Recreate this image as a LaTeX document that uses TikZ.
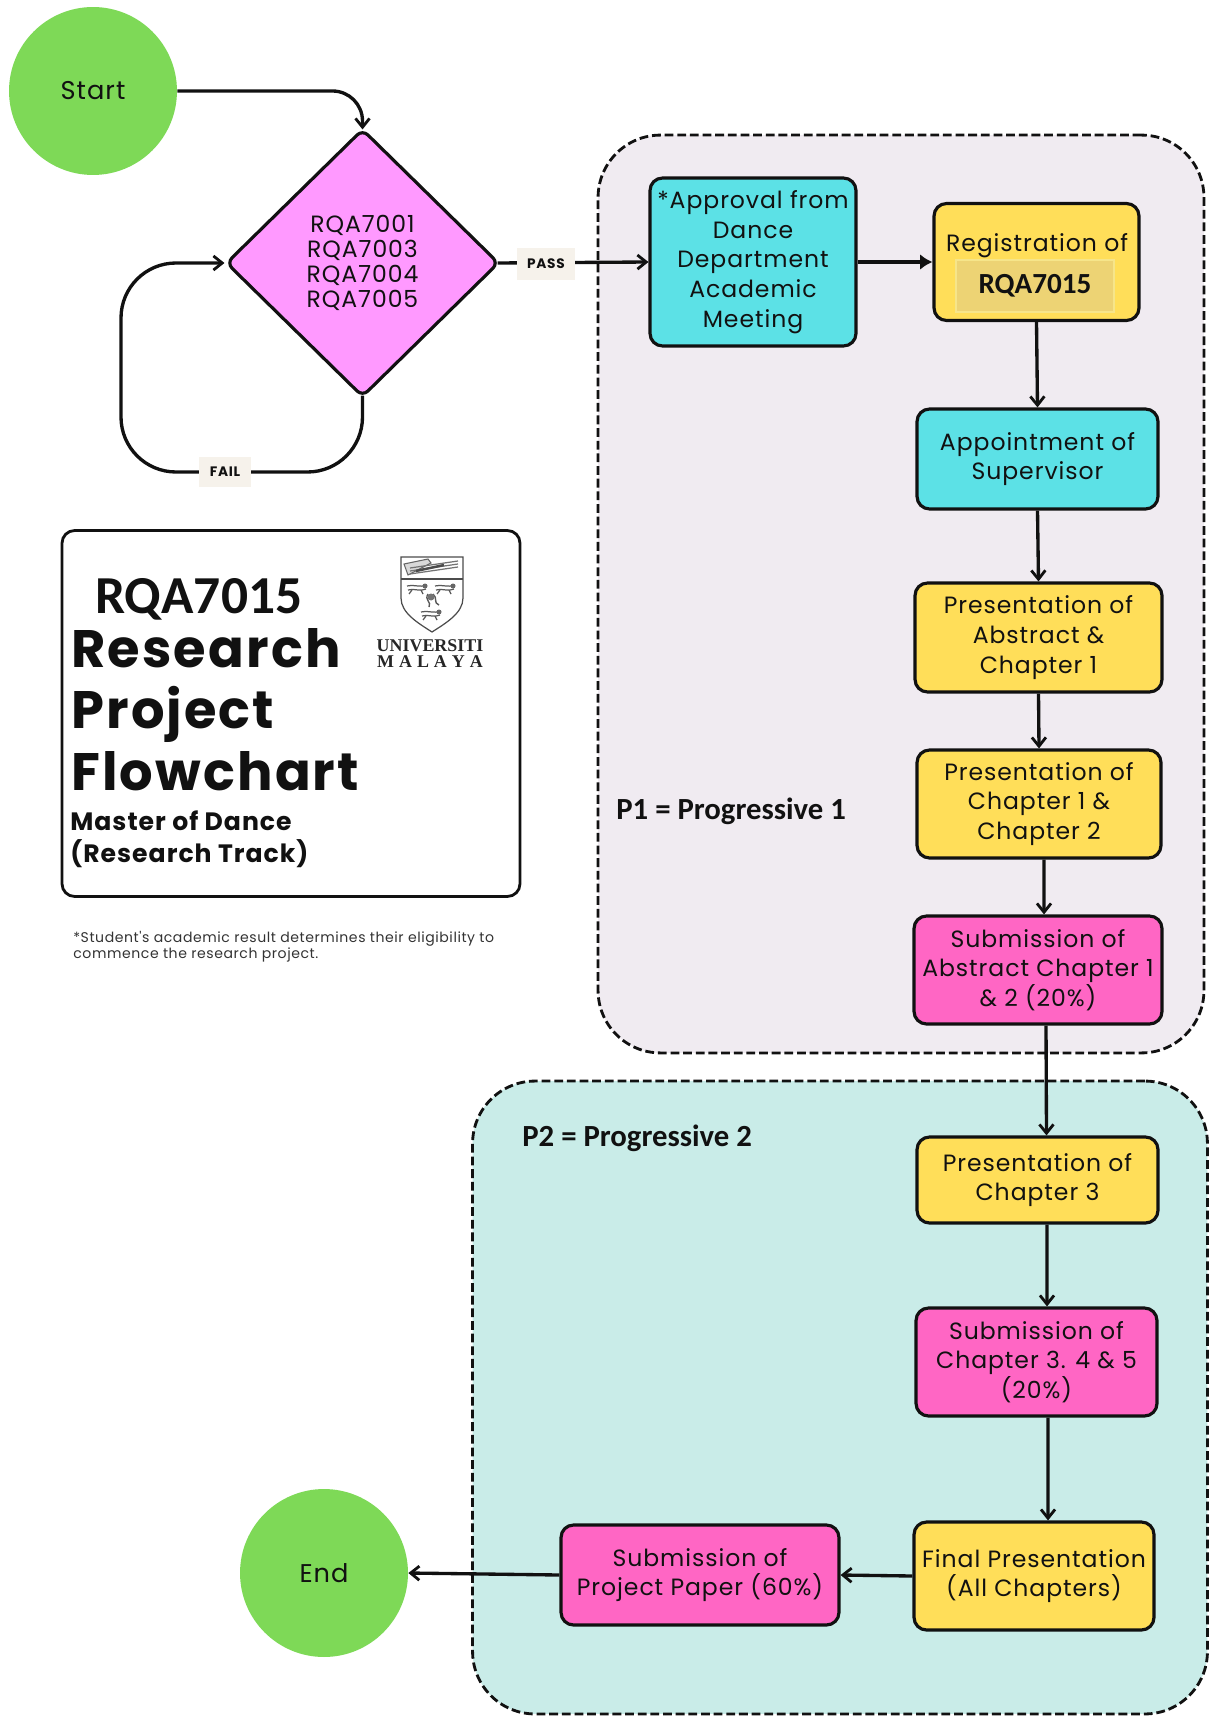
\documentclass[tikz,border=0pt]{standalone}
\usepackage{fontspec}
\usepackage{amsmath}
\usetikzlibrary{arrows.meta}
\usetikzlibrary{shapes.geometric}
\usetikzlibrary{calc}
\setmainfont{Poppins}
\newfontfamily\boxfont[LetterSpace=4]{Poppins}
\newfontfamily\headfont[LetterSpace=4]{Poppins}
\newfontfamily\tagfont[LetterSpace=5]{Poppins}
\newfontfamily\calfont{Carlito}
\newfontfamily\crestfont{Liberation Serif}
\definecolor{startgreen}{HTML}{7ED957}
\definecolor{gatepink}{HTML}{FF99FF}
\definecolor{stepcyan}{HTML}{5CE1E6}
\definecolor{stepyellow}{HTML}{FFDE59}
\definecolor{stepmagenta}{HTML}{FF66C4}
\definecolor{codeyellow}{HTML}{EDD374}
\definecolor{codeedge}{HTML}{F6E58A}
\definecolor{phaselilac}{HTML}{F0EBF1}
\definecolor{phaseteal}{HTML}{C9ECE8}
\definecolor{tagcream}{HTML}{F6F2EB}
\definecolor{inkblack}{HTML}{111111}
\tikzset{
    stepbox/.style={draw=inkblack, line width=1.8pt, rounded corners=0.25cm, align=center, inner sep=0pt,
        font=\boxfont\fontsize{13.4}{16.9}\selectfont, text=inkblack},
    endcircle/.style={circle, fill=startgreen, minimum size=3.36cm, inner sep=0pt,
        font=\boxfont\fontsize{14.6}{16}\selectfont, text=inkblack},
    phasebox/.style={draw=inkblack, line width=1.6pt, dash pattern=on 5pt off 2.2pt, rounded corners=1.25cm},
    tagbox/.style={fill=tagcream, inner sep=0pt, font=\tagfont\bfseries\fontsize{7.8}{9}\selectfont, text=inkblack},
    flow/.style={draw=inkblack, line width=1.9pt, -{Straight Barb[length=5pt,width=8pt,line width=1.6pt]}},
    flowfill/.style={draw=inkblack, line width=1.9pt, -{Latex[length=7pt,width=9pt]}},
    plainlabel/.style={anchor=base west, inner sep=0pt, text=inkblack}
}
\begin{document}
\begin{tikzpicture}[x=0.02cm,y=-0.02cm]
    \useasboundingbox (0,0) rectangle (1208,1716);
    % the two dashed phases
    \node[phasebox, fill=phaselilac, minimum width=12.12cm, minimum height=18.36cm] (phaseone) at (901,594) {};
    \node[phasebox, fill=phaseteal, minimum width=14.7cm, minimum height=12.66cm] (phasetwo) at (840,1397.5) {};
    \node[plainlabel, font=\calfont\bfseries\fontsize{17.5}{20}\selectfont] (labelone) at (616,819) {P1 = Progressive 1};
    \node[plainlabel, font=\calfont\bfseries\fontsize{17.5}{20}\selectfont] (labeltwo) at (522,1146) {P2 = Progressive 2};

    % start, gate and end
    \node[endcircle] (start) at (93,91) {Start};
    \node[endcircle] (end) at (324,1573) {End};
    \node[diamond, draw=inkblack, fill=gatepink, line width=1.8pt, rounded corners=0.15cm, inner sep=0pt,
        minimum width=5.46cm, minimum height=5.36cm, align=center, text=inkblack,
        font=\boxfont\fontsize{13.4}{14.1}\selectfont] (gate) at (362.5,263) {RQA7001\\RQA7003\\RQA7004\\RQA7005};

    % steps of the first phase
    \node[stepbox, fill=stepcyan, minimum width=4.12cm, minimum height=3.36cm] (approval) at (753,262)
        {*Approval from\\Dance\\Department\\Academic\\Meeting};
    \node[stepbox, fill=stepyellow, minimum width=4.1cm, minimum height=2.34cm] (registration) at (1036.5,262) {};
    \node[anchor=center, font=\boxfont\fontsize{13.4}{15.6}\selectfont, text=inkblack, inner sep=0pt] (registrationtext) at (1037,246) {Registration of};
    \node[fill=codeyellow, draw=codeedge, line width=0.7pt, minimum width=3.16cm, minimum height=1.04cm,
        inner sep=0pt, font=\calfont\bfseries\fontsize{16.6}{18}\selectfont, text=inkblack] (coursecode) at (1035,286) {\raisebox{-0.1cm}{RQA7015}};
    \node[stepbox, fill=stepcyan, minimum width=4.82cm, minimum height=2cm] (supervisor) at (1037.5,459) {Appointment of\\Supervisor};
    \node[stepbox, fill=stepyellow, minimum width=4.94cm, minimum height=2.18cm] (presone) at (1038.5,637.5) {Presentation of\\Abstract \&\\Chapter 1};
    \node[stepbox, fill=stepyellow, minimum width=4.88cm, minimum height=2.16cm] (prestwo) at (1039,804) {Presentation of\\Chapter 1 \&\\Chapter 2};
    \node[stepbox, fill=stepmagenta, minimum width=4.96cm, minimum height=2.16cm] (subone) at (1038,970) {Submission of\\Abstract Chapter 1\\\& 2 (20\%)};

    % steps of the second phase
    \node[stepbox, fill=stepyellow, minimum width=4.82cm, minimum height=1.72cm] (presthree) at (1037.5,1180) {Presentation of\\Chapter 3};
    \node[stepbox, fill=stepmagenta, minimum width=4.82cm, minimum height=2.16cm] (subtwo) at (1036.5,1362) {Submission of\\Chapter 3. 4 \& 5\\(20\%)};
    \node[stepbox, fill=stepyellow, minimum width=4.8cm, minimum height=2.16cm] (final) at (1034,1576) {Final Presentation\\(All Chapters)};
    \node[stepbox, fill=stepmagenta, minimum width=5.56cm, minimum height=2cm] (subthree) at (700,1575) {Submission of\\Project Paper (60\%)};

    % connectors
    \draw[flow, rounded corners=0.6cm] (start.east) -| ([yshift=-0.04cm]gate.north);
    \coordinate (loopfoot) at (121,472);
    \draw[flow, rounded corners=1.1cm] ([yshift=0.06cm]gate.south) |- (loopfoot) |- (gate.west);
    \draw[flow] ([xshift=-0.06cm]gate.east) -- (approval.west);
    \draw[flowfill] (approval.east) -- (registration.west);
    \draw[flow] (registration.south) -- (supervisor.north);
    \draw[flow] (supervisor.south) -- (presone.north);
    \draw[flow] (presone.south) -- (prestwo.north);
    \draw[flow] ([xshift=0.1cm]prestwo.south) -- ([xshift=0.12cm]subone.north);
    \draw[flow] ([xshift=0.16cm]subone.south) -- ([xshift=0.18cm]presthree.north);
    \draw[flow] ([xshift=0.19cm]presthree.south) -- ([xshift=0.21cm]subtwo.north);
    \draw[flow] ([xshift=0.23cm]subtwo.south) -- ([xshift=0.28cm]final.north);
    \draw[flow] (final.west) -- (subthree.east);
    \draw[flow] (subthree.west) -- (end.east);
    \node[tagbox, minimum width=1.16cm, minimum height=0.64cm] (passtag) at (546,264) {PASS};
    \node[tagbox, minimum width=1.04cm, minimum height=0.6cm] (failtag) at (225,472) {FAIL};

    % title card
    \node[draw=inkblack, line width=1.6pt, rounded corners=0.25cm, fill=white, minimum width=9.16cm, minimum height=7.32cm] (card) at (291,713.5) {};
    \node[plainlabel, font=\calfont\bfseries\fontsize{30.4}{34}\selectfont] (code) at (95,613) {RQA7015};
    \node[plainlabel, font=\headfont\bfseries\fontsize{30}{34}\selectfont] (titleone) at (71,667) {Research};
    \node[plainlabel, font=\headfont\bfseries\fontsize{30}{34}\selectfont] (titletwo) at (71,728) {Project};
    \node[plainlabel, font=\headfont\bfseries\fontsize{30}{34}\selectfont] (titlethree) at (71,790) {Flowchart};
    \node[plainlabel, font=\headfont\bfseries\fontsize{14.3}{16}\selectfont] (subtitleone) at (70,830) {Master of Dance};
    \node[plainlabel, font=\headfont\bfseries\fontsize{14.3}{16}\selectfont] (subtitletwo) at (70,862) {(Research Track)};
    \node[plainlabel, font=\headfont\fontsize{8}{9}\selectfont, text=black!80] (noteone) at (73,942) {*Student's academic result determines their eligibility to};
    \node[plainlabel, font=\headfont\fontsize{8}{9}\selectfont, text=black!80] (notetwo) at (73,958) {commence the research project.};

    % crest
    \draw[black!70, line width=0.7pt] (401,557) -- (463,557) -- (463,598) .. controls (463,613) and (446,623) .. (432,632) .. controls (418,623) and (401,613) .. (401,598) -- cycle;
    \draw[black!70, line width=0.7pt] (401,579) -- (463,579);
    \draw[black!60, line width=0.6pt, fill=black!15] (404,564) -- (428,559) -- (431,563) -- (408,575) -- cycle;
    \foreach \y in {0,3,6} {
        \draw[black!55, line width=0.7pt] (410,\y+568) -- (458,\y+561);
    }
    \draw[black!70, line width=1.4pt] (416,571) -- (444,565);
    \foreach \x/\y in {417/589, 445/589, 431/615} {
        \draw[black!65, line width=0.7pt] (\x-10,\y-3) .. controls (\x-4,\y-5) and (\x+3,\y-1) .. (\x+10,\y-4);
        \draw[black!65, line width=0.7pt] (\x-9,\y+1) .. controls (\x-3,\y-1) and (\x+3,\y+3) .. (\x+9,\y);
        \draw[black!65, line width=0.7pt] (\x-8,\y+5) -- (\x-5,\y+1) (\x+6,\y+5) -- (\x+4,\y+1);
        \fill[black!60] (\x+8,\y-3) circle (0.05cm);
    }
    \draw[black!65, line width=0.8pt] (428,594) .. controls (424,600) and (432,602) .. (429,607) (433,594) .. controls (438,598) and (433,603) .. (439,605);
    \fill[black!55] (431,597) circle (0.07cm);
    \node[font=\crestfont\bfseries\fontsize{10.2}{12}\selectfont, text=black!85, inner sep=0pt] (crestone) at (430,646) {UNIVERSITI};
    \node[font=\crestfont\bfseries\fontsize{10.2}{12}\selectfont, text=black!85, inner sep=0pt] (cresttwo) at (430,662) {M\hspace{0.1cm}A\hspace{0.1cm}L\hspace{0.1cm}A\hspace{0.1cm}Y\hspace{0.1cm}A};
\end{tikzpicture}
\end{document}
